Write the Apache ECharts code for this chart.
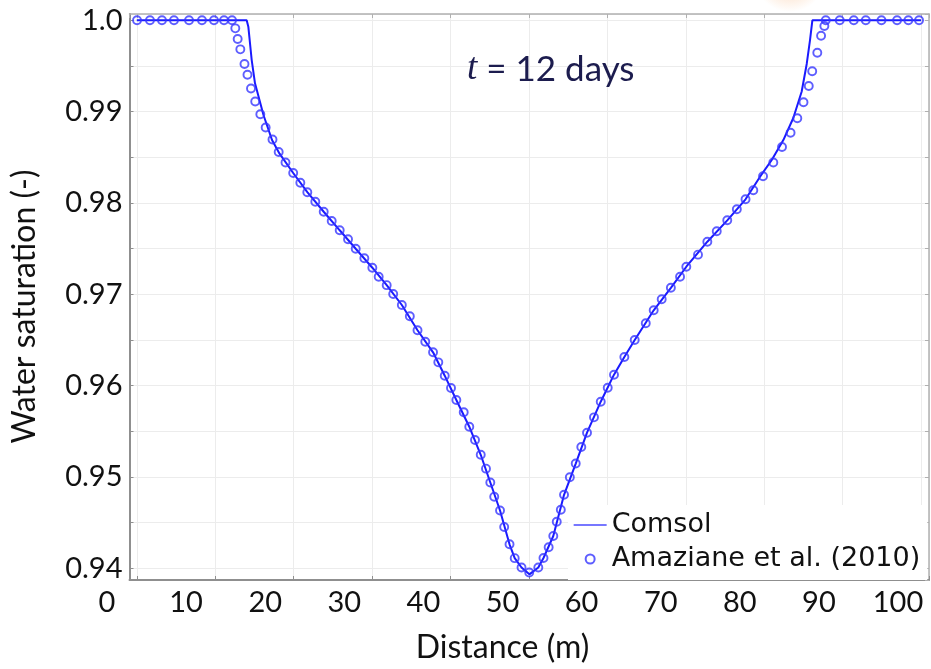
<!DOCTYPE html>
<html>
<head>
<meta charset="utf-8">
<script src="https://cdn.jsdelivr.net/npm/echarts@6/dist/echarts.min.js"></script>
<style>html,body{margin:0;padding:0;background:#fff}#c{width:931px;height:669px}</style>
</head>
<body>
<div id="c"></div>
<script>
// Comsol solution (line)
const comsolX = [0,14.01,14.22,14.52,14.65,15.07,16.15,17.24,18.2,19.94,21.74,23.83,25.87,27.91,30.03,31.86,33.79,35.79,37.77,39.26,40.74,42.39,43.85,45.07,46.31,47.52,48.18,49.05,50.05,51.19,51.85,53.10,54.47,55.96,57.40,59.15,60.84,62.16,63.48,65.90,68.09,70.06,72.74,75.28,77.61,79.46,80.95,82.43,83.70,84.77,85.41,85.83,86.13,100];
const comsolY = [1,1,0.9993,0.99675,0.99565,0.99310,0.98963,0.98689,0.98540,0.98328,0.98118,0.97904,0.97701,0.97499,0.97291,0.97100,0.96883,0.96607,0.96365,0.96109,0.95843,0.95550,0.95243,0.94939,0.94633,0.94263,0.94111,0.94009,0.93934,0.94009,0.94113,0.94354,0.94805,0.95147,0.95485,0.95824,0.96120,0.96314,0.96500,0.96825,0.97071,0.97302,0.97576,0.97810,0.98040,0.98288,0.98470,0.98689,0.98930,0.99220,0.99522,0.99784,1,1];
// Amaziane et al. (2010) (circles)
const amazX = [0.03,1.68,3.21,4.74,6.66,8.31,9.84,11.12,12.14,
12.56,12.86,13.20,13.73,14.11,14.56,15.10,15.75,16.43,17.30,
18.09,18.96,19.94,20.85,21.74,22.76,23.83,24.85,25.87,26.93,
27.91,29.01,30.03,30.84,31.86,32.69,33.79,34.81,35.79,36.78,
37.77,38.44,39.26,40.06,40.74,41.68,42.39,43.12,43.85,44.52,
45.07,45.57,46.31,46.84,47.52,48.18,49.05,50.03,51.19,51.85,
52.51,53.10,53.54,54.06,54.47,55.21,55.96,56.67,57.40,58.29,
59.15,60.04,60.84,62.16,63.48,64.89,65.90,66.92,68.09,69.26,
70.06,71.55,72.74,73.94,75.28,76.50,77.61,78.60,79.84,81.15,
82.26,83.35,84.21,85.00,85.67,86.11,86.76,87.24,87.66,87.84,
89.62,91.41,92.94,94.94,96.93,98.37,99.73];
const amazY = [1,1,1,1,1,1,1,1,1,
0.99912,0.99795,0.99682,0.99522,0.99404,0.99253,0.99111,0.98971,0.98826,0.98695,
0.98558,0.98443,0.98328,0.98222,0.98118,0.98013,0.97904,0.97803,0.97701,0.97602,
0.97499,0.97394,0.97291,0.97193,0.97100,0.97003,0.96883,0.96759,0.96607,0.96481,
0.96365,0.96255,0.96109,0.95974,0.95843,0.95708,0.95550,0.95405,0.95243,0.95091,
0.94939,0.94784,0.94633,0.94452,0.94263,0.94111,0.94009,0.93954,0.94009,0.94113,
0.94231,0.94354,0.94509,0.94641,0.94805,0.94997,0.95147,0.95328,0.95485,0.95653,
0.95824,0.95977,0.96120,0.96314,0.96500,0.96683,0.96825,0.96946,0.97071,0.97193,
0.97302,0.97434,0.97576,0.97690,0.97810,0.97931,0.98040,0.98139,0.98292,0.98443,
0.98613,0.98769,0.98927,0.99102,0.99281,0.99443,0.99645,0.99831,0.99938,1,
1,1,1,1,1,1,1];
const seriesNames = ['Comsol', 'Amaziane et al. (2010)'];
const xTickValues = [0,10,20,30,40,50,60,70,80,90,100];
const yTickLabels = ['0.94','0.95','0.96','0.97','0.98','0.99','1.0'];
const xTitle = 'Distance (m)';
const yTitle = 'Water saturation (-)';
const annotation = '{i|t} = 12 days';

const chart = echarts.init(document.getElementById('c'), null, {renderer: 'canvas'});
const LF = 'Lato, "Open Sans", sans-serif';
const axisGray = '#8f8f8f';
const gridGray = '#ececec';
const xMin = -0.93, xMax = 101.0, yMin = 0.93872, yMax = 1.00069;

function yFmt(v) {
  const r = Math.round(v * 100);
  if (Math.abs(v * 100 - r) > 1e-6) return '';
  const hit = yTickLabels.find(t => Math.abs(parseFloat(t) - r / 100) < 1e-9);
  return hit !== undefined ? hit : '';
}

const option = {
  backgroundColor: '#fff',
  animation: false,
  title: {
    text: annotation,
    left: 462, top: 46,
    textStyle: {
      fontFamily: LF, fontSize: 35, color: '#1c1c4e', fontWeight: 'normal',
      rich: { i: { fontFamily: '"Liberation Serif", serif', fontStyle: 'italic', fontSize: 37, color: '#1c1c4e' } }
    }
  },
  graphic: [{
    type: 'ellipse', z: -10, silent: true,
    shape: { cx: 790, cy: -24, rx: 170, ry: 36 },
    style: { fill: new echarts.graphic.RadialGradient(0.5, 0.5, 0.5, [
      { offset: 0, color: 'rgba(245,150,70,0.45)' },
      { offset: 1, color: 'rgba(245,150,70,0)' }]) }
  }],
  grid: [
    { left: 129.5, top: 14, width: 799.5, height: 566, show: false },
    { left: 107, top: 44, width: 791, height: 536, show: false }
  ],
  legend: {
    orient: 'vertical', left: 568, top: 505,
    padding: [3, 7, 4, 5], itemGap: 0,
    itemWidth: 33, itemHeight: 9,
    backgroundColor: '#fff',
    textStyle: { fontFamily: '"DejaVu Sans"', fontSize: 27, color: '#111', lineHeight: 34 },
    data: [
      { name: seriesNames[0], itemStyle: { opacity: 0 }, lineStyle: { width: 1.3, color: '#4a4aff' } },
      { name: seriesNames[1] }
    ]
  },
  xAxis: [
    { type: 'value', gridIndex: 0, min: xMin, max: xMax, splitNumber: 10,
      axisLine: { lineStyle: { color: axisGray, width: 2 } },
      axisTick: { inside: true, length: 4, lineStyle: { color: axisGray } },
      axisLabel: { show: false },
      splitLine: { lineStyle: { color: gridGray, width: 1 } } },
    { type: 'value', gridIndex: 0, position: 'top', min: xMin, max: xMax, splitNumber: 10,
      axisLine: { onZero: false, lineStyle: { color: '#b0b0b0', width: 1.5 } },
      axisTick: { inside: true, length: 4, lineStyle: { color: '#b0b0b0' } },
      axisLabel: { show: false }, splitLine: { show: false } },
    { type: 'value', gridIndex: 1, min: 0, max: 100, interval: 10,
      axisLine: { show: false }, axisTick: { show: false }, splitLine: { show: false },
      axisLabel: { fontFamily: LF, fontSize: 29, color: '#111', margin: 19,
        formatter: v => (xTickValues.indexOf(v) >= 0 ? String(v) : '') },
      name: xTitle, nameLocation: 'middle', nameGap: 63,
      nameTextStyle: { fontFamily: LF, fontSize: 32, color: '#111' } }
  ],
  yAxis: [
    { type: 'value', gridIndex: 0, min: yMin, max: yMax, splitNumber: 12,
      axisLine: { onZero: false, lineStyle: { color: axisGray, width: 2 } },
      axisTick: { inside: true, length: 4, lineStyle: { color: axisGray } },
      axisLabel: { fontFamily: LF, fontSize: 29, color: '#111', margin: 7, formatter: yFmt,
        showMinLabel: false, showMaxLabel: false },
      splitLine: { lineStyle: { color: gridGray, width: 1 } } },
    { type: 'value', gridIndex: 0, position: 'right', min: yMin, max: yMax, splitNumber: 12,
      axisLine: { onZero: false, lineStyle: { color: '#b0b0b0', width: 1.5 } },
      axisTick: { inside: true, length: 4, lineStyle: { color: '#b0b0b0' } },
      axisLabel: { show: false }, splitLine: { show: false } },
    { type: 'value', gridIndex: 1, min: 0, max: 1,
      axisLine: { show: false }, axisTick: { show: false }, axisLabel: { show: false }, splitLine: { show: false },
      name: yTitle, nameLocation: 'middle', nameRotate: 90, nameGap: 66,
      nameTextStyle: { fontFamily: LF, fontSize: 32, color: '#111' } }
  ],
  series: [
    { name: seriesNames[0], type: 'line', xAxisIndex: 0, yAxisIndex: 0,
      data: comsolX.map((x, i) => [x, comsolY[i]]),
      symbol: 'none', smooth: false, clip: true,
      lineStyle: { color: '#1a1aff', width: 2 }, itemStyle: { color: '#1a1aff' }, z: 3 },
    { name: seriesNames[1], type: 'scatter', xAxisIndex: 0, yAxisIndex: 0,
      data: amazX.map((x, i) => [x, amazY[i]]),
      symbol: 'circle', symbolSize: 8,
      itemStyle: { color: 'rgba(255,255,255,0)', borderColor: '#3636ff', borderWidth: 1.9 }, z: 4 }
  ]
};
chart.setOption(option);
</script>
</body>
</html>
